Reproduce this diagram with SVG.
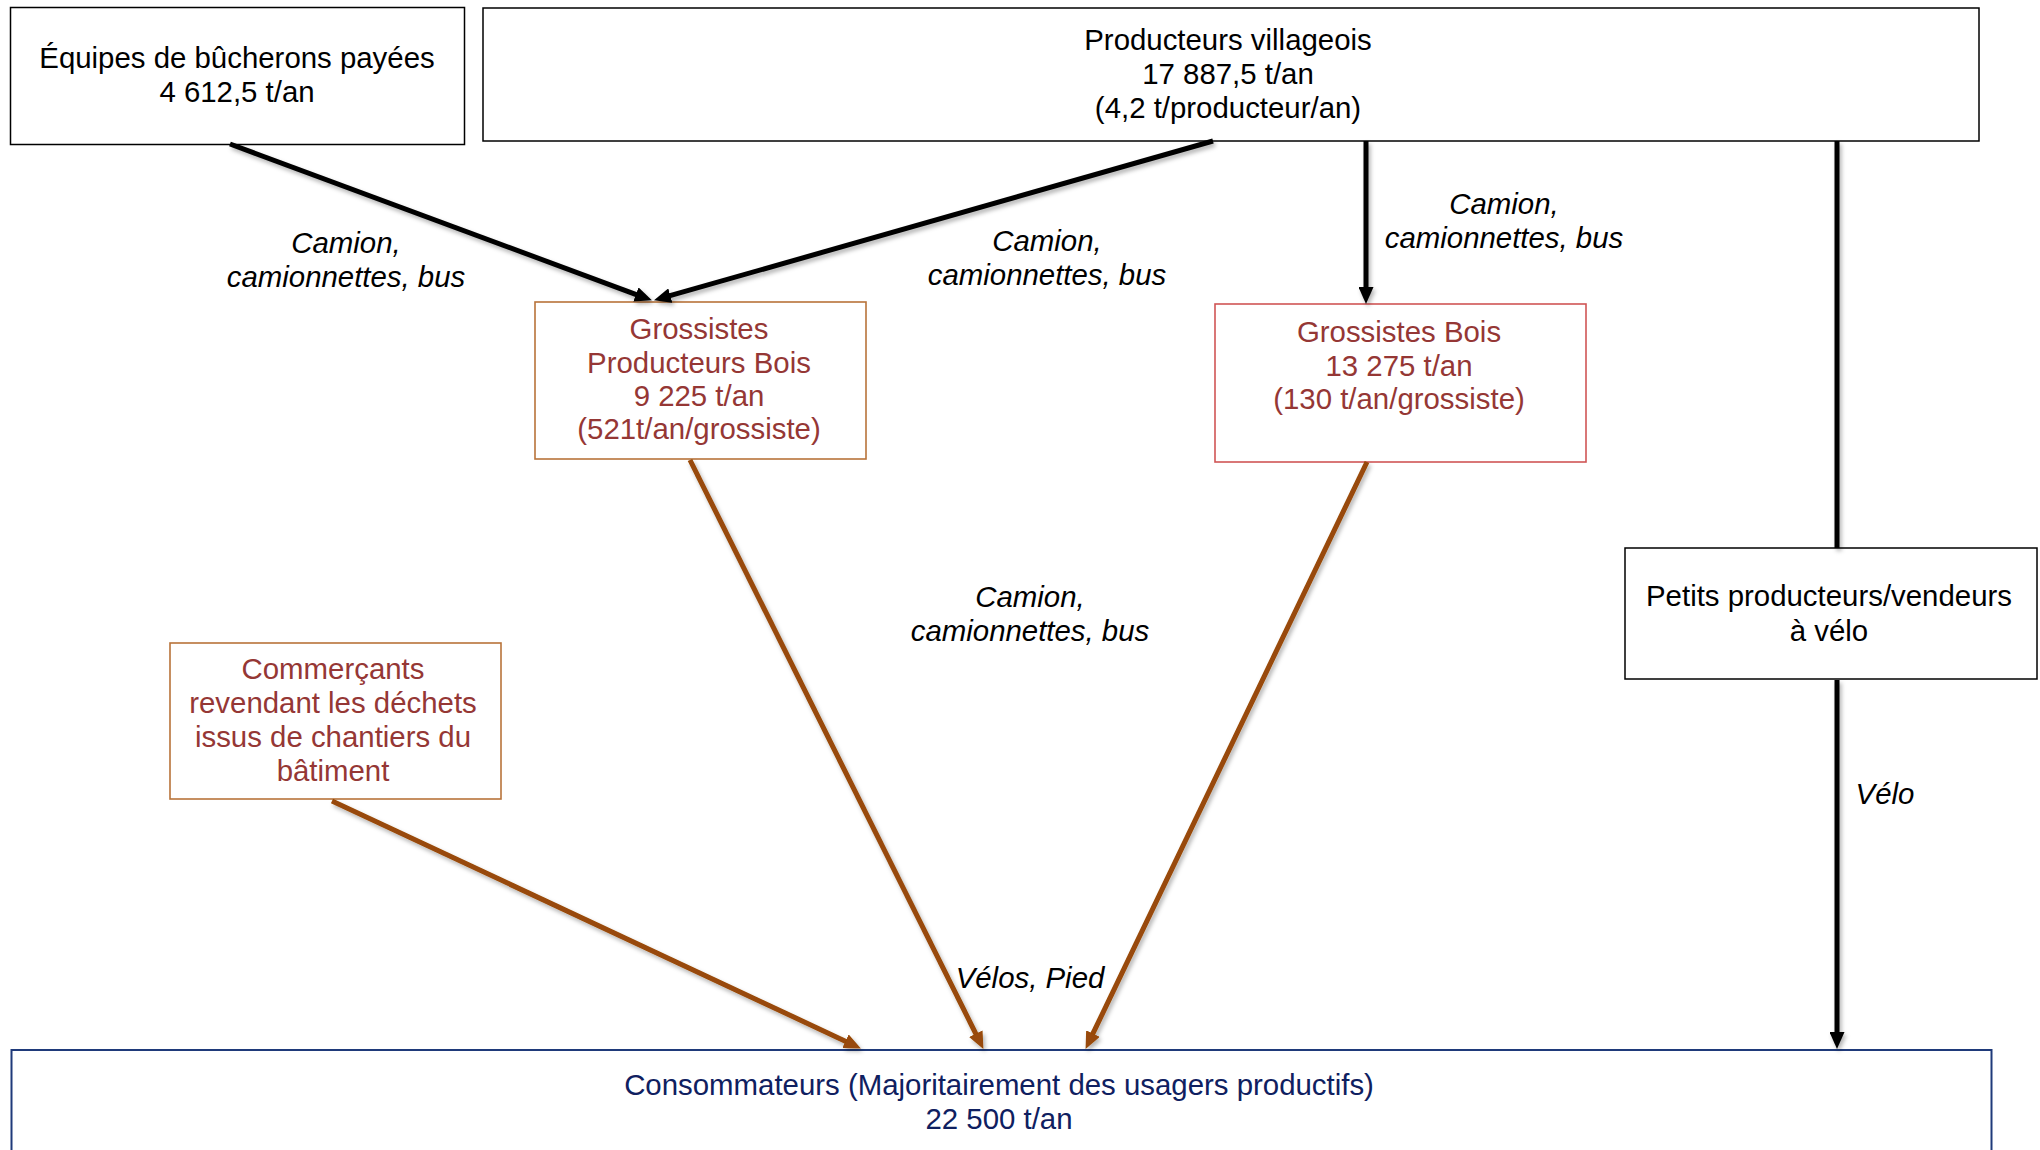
<svg xmlns="http://www.w3.org/2000/svg" width="2040" height="1150" viewBox="0 0 2040 1150">
<defs>
<style>
text{font-family:"Liberation Sans",Arial,sans-serif;font-size:29.4px;text-anchor:middle}
.blk{fill:#000}
.red{fill:#953735}
.navy{fill:#0F2060}
.lab{font-style:italic;fill:#000}
.box{fill:#fff;stroke:#000;stroke-width:1.5}
.boxo{fill:#fff;stroke:#B8733A;stroke-width:1.6}
.boxr{fill:#fff;stroke:#D05555;stroke-width:1.6}
.boxn{fill:#fff;stroke:#1F3A7A;stroke-width:2}
.ck{stroke:#000;stroke-width:5;fill:none}
.cb{stroke:#984807;stroke-width:5;fill:none}
</style>
<marker id="ak" markerUnits="userSpaceOnUse" markerWidth="17" markerHeight="15" refX="4" refY="7.5" orient="auto"><path d="M0,0 L17,7.5 L0,15 z" fill="#000"/></marker>
<marker id="ab" markerUnits="userSpaceOnUse" markerWidth="17" markerHeight="15" refX="4" refY="7.5" orient="auto"><path d="M0,0 L17,7.5 L0,15 z" fill="#984807"/></marker>
<filter id="sh" x="-20%" y="-20%" width="140%" height="140%"><feDropShadow dx="2" dy="3" stdDeviation="2" flood-color="#000" flood-opacity="0.3"/></filter>
</defs>
<rect width="2040" height="1150" fill="#fff"/>

<g id="n-equipes">
<rect class="box" x="10.5" y="7.5" width="454" height="137"/>
<text class="blk" x="237" y="68">Équipes de bûcherons payées</text>
<text class="blk" x="237" y="102">4 612,5 t/an</text>
</g>

<g id="n-producteurs">
<rect class="box" x="483" y="8" width="1496" height="133"/>
<text class="blk" x="1228" y="50">Producteurs villageois</text>
<text class="blk" x="1228" y="84">17 887,5 t/an</text>
<text class="blk" x="1228" y="118">(4,2 t/producteur/an)</text>
</g>

<g id="n-gpb">
<rect class="boxo" x="535" y="302" width="331" height="157"/>
<text class="red" x="699" y="339">Grossistes</text>
<text class="red" x="699" y="373">Producteurs Bois</text>
<text class="red" x="699" y="406">9 225 t/an</text>
<text class="red" x="699" y="439">(521t/an/grossiste)</text>
</g>

<g id="n-gb">
<rect class="boxr" x="1215" y="304" width="371" height="158"/>
<text class="red" x="1399" y="342">Grossistes Bois</text>
<text class="red" x="1399" y="376">13 275 t/an</text>
<text class="red" x="1399" y="409">(130 t/an/grossiste)</text>
</g>

<g id="n-commercants">
<rect class="boxo" x="170" y="643" width="331" height="156"/>
<text class="red" x="333" y="679">Commerçants</text>
<text class="red" x="333" y="713">revendant les déchets</text>
<text class="red" x="333" y="747">issus de chantiers du</text>
<text class="red" x="333" y="781">bâtiment</text>
</g>

<g id="n-petits">
<rect class="box" x="1625" y="548" width="412" height="131"/>
<text class="blk" x="1829" y="606">Petits producteurs/vendeurs</text>
<text class="blk" x="1829" y="641">à vélo</text>
</g>

<g id="n-consommateurs">
<rect class="boxn" x="11.5" y="1050" width="1980" height="140"/>
<text class="navy" x="999" y="1095">Consommateurs (Majoritairement des usagers productifs)</text>
<text class="navy" x="999" y="1129">22 500 t/an</text>
</g>

<g id="connectors" filter="url(#sh)">
<line class="ck" x1="230" y1="144" x2="639.7" y2="295.8" marker-end="url(#ak)"/>
<line class="ck" x1="1213" y1="141" x2="666.5" y2="296.7" marker-end="url(#ak)"/>
<line class="ck" x1="1366" y1="141" x2="1366" y2="291" marker-end="url(#ak)"/>
<line class="ck" x1="1837" y1="141" x2="1837" y2="548"/>
<line class="ck" x1="1837" y1="680" x2="1837" y2="1036" marker-end="url(#ak)"/>
<line class="cb" x1="332" y1="801" x2="849.1" y2="1042.9" marker-end="url(#ab)"/>
<line class="cb" x1="690" y1="460" x2="977.6" y2="1037.3" marker-end="url(#ab)"/>
<line class="cb" x1="1367" y1="462" x2="1091.2" y2="1037.2" marker-end="url(#ab)"/>
</g>

<g id="labels">
<text class="lab" x="346" y="253">Camion,</text>
<text class="lab" x="346" y="287">camionnettes, bus</text>
<text class="lab" x="1047" y="251">Camion,</text>
<text class="lab" x="1047" y="285">camionnettes, bus</text>
<text class="lab" x="1504" y="214">Camion,</text>
<text class="lab" x="1504" y="248">camionnettes, bus</text>
<text class="lab" x="1030" y="607">Camion,</text>
<text class="lab" x="1030" y="641">camionnettes, bus</text>
<text class="lab" x="1885" y="804">Vélo</text>
<text class="lab" x="1030" y="988">Vélos, Pied</text>
</g>
</svg>
